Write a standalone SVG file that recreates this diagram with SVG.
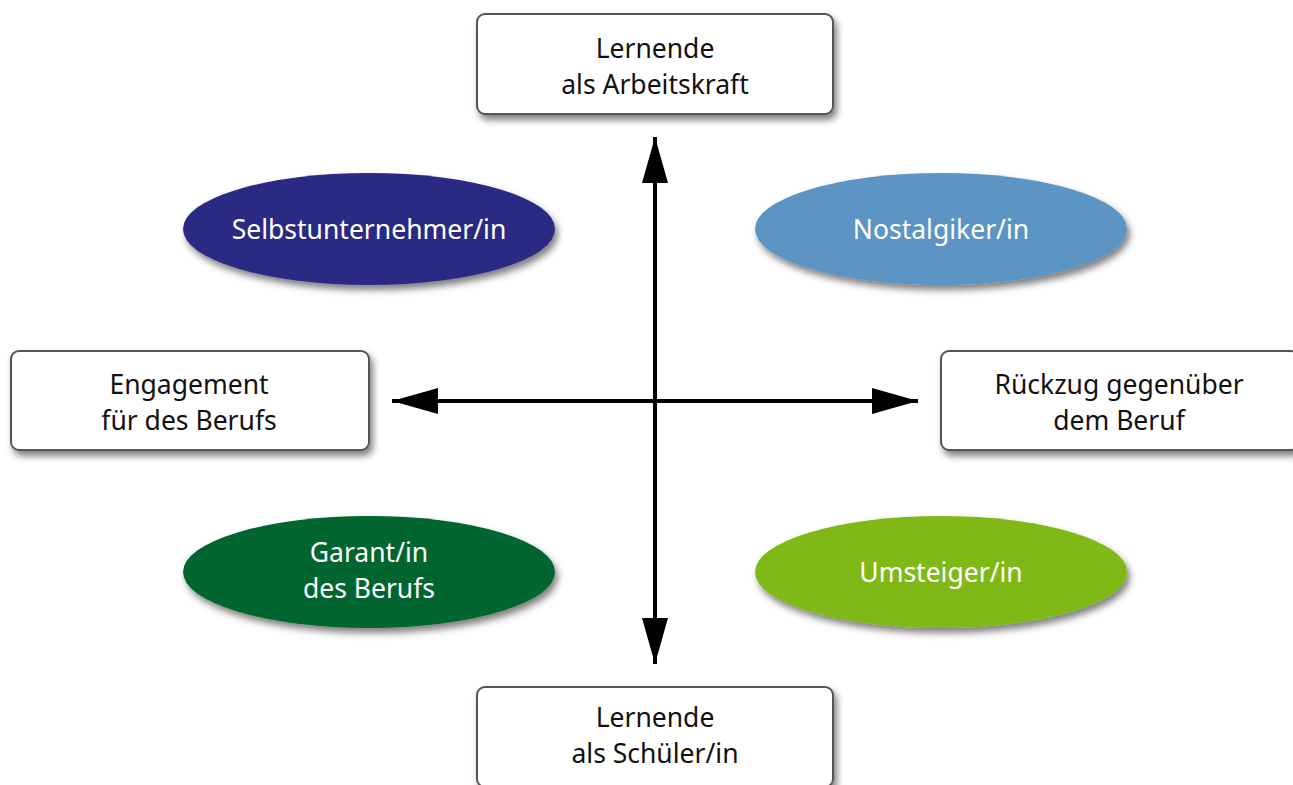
<svg xmlns="http://www.w3.org/2000/svg" width="1293" height="785" viewBox="0 0 1293 785">
<defs>
<filter id="sh" x="-10%" y="-20%" width="125%" height="150%">
<feDropShadow dx="3" dy="5" stdDeviation="3.5" flood-color="#000" flood-opacity="0.5"/>
</filter>
<marker id="ah" viewBox="0 0 46 26" refX="46" refY="13" markerWidth="46" markerHeight="26" markerUnits="userSpaceOnUse" orient="auto-start-reverse">
<path d="M0,0 L46,13 L0,26 Z" fill="#000"/>
</marker>
</defs>
<style>
.box{fill:#fff;stroke:#555;stroke-width:2;filter:url(#sh)}
.ell{filter:url(#sh)}
.t{font-family:"Noto Sans","Liberation Sans",sans-serif;font-size:26.5px;text-anchor:middle;fill:#111}
.w{fill:#fff}
.ax{stroke:#000;stroke-width:4;fill:none}
</style>
<rect width="1293" height="785" fill="#fff"/>
<g id="connectors">
<path class="ax" d="M655,401 L655,137" marker-end="url(#ah)"/>
<path class="ax" d="M655,401 L655,664" marker-end="url(#ah)"/>
<path class="ax" d="M655,401 L392,401" marker-end="url(#ah)"/>
<path class="ax" d="M655,401 L918,401" marker-end="url(#ah)"/>
</g>
<g id="top">
<rect class="box" x="477" y="14" width="356" height="100" rx="8"/>
<text class="t" x="655" y="58">Lernende</text>
<text class="t" x="655" y="94">als Arbeitskraft</text>
</g>
<g id="bottom">
<rect class="box" x="477" y="687" width="356" height="100" rx="8"/>
<text class="t" x="655" y="727">Lernende</text>
<text class="t" x="655" y="763">als Schüler/in</text>
</g>
<g id="left">
<rect class="box" x="11" y="351" width="358" height="99" rx="8"/>
<text class="t" x="189" y="394">Engagement</text>
<text class="t" x="189" y="430">für des Berufs</text>
</g>
<g id="right">
<rect class="box" x="941" y="351" width="358" height="99" rx="8"/>
<text class="t" x="1119" y="394">Rückzug gegenüber</text>
<text class="t" x="1119" y="430">dem Beruf</text>
</g>
<g id="selbst">
<ellipse class="ell" cx="369" cy="229" rx="186" ry="56" fill="#2a2a84"/>
<text class="t w" x="369" y="239">Selbstunternehmer/in</text>
</g>
<g id="nostalgiker">
<ellipse class="ell" cx="941" cy="229" rx="186" ry="56" fill="#5b94c4"/>
<text class="t w" x="941" y="239">Nostalgiker/in</text>
</g>
<g id="garant">
<ellipse class="ell" cx="369" cy="572" rx="186" ry="56" fill="#00652e"/>
<text class="t w" x="369" y="562">Garant/in</text>
<text class="t w" x="369" y="598">des Berufs</text>
</g>
<g id="umsteiger">
<ellipse class="ell" cx="941" cy="572" rx="186" ry="56" fill="#80b919"/>
<text class="t w" x="941" y="582">Umsteiger/in</text>
</g>
</svg>
